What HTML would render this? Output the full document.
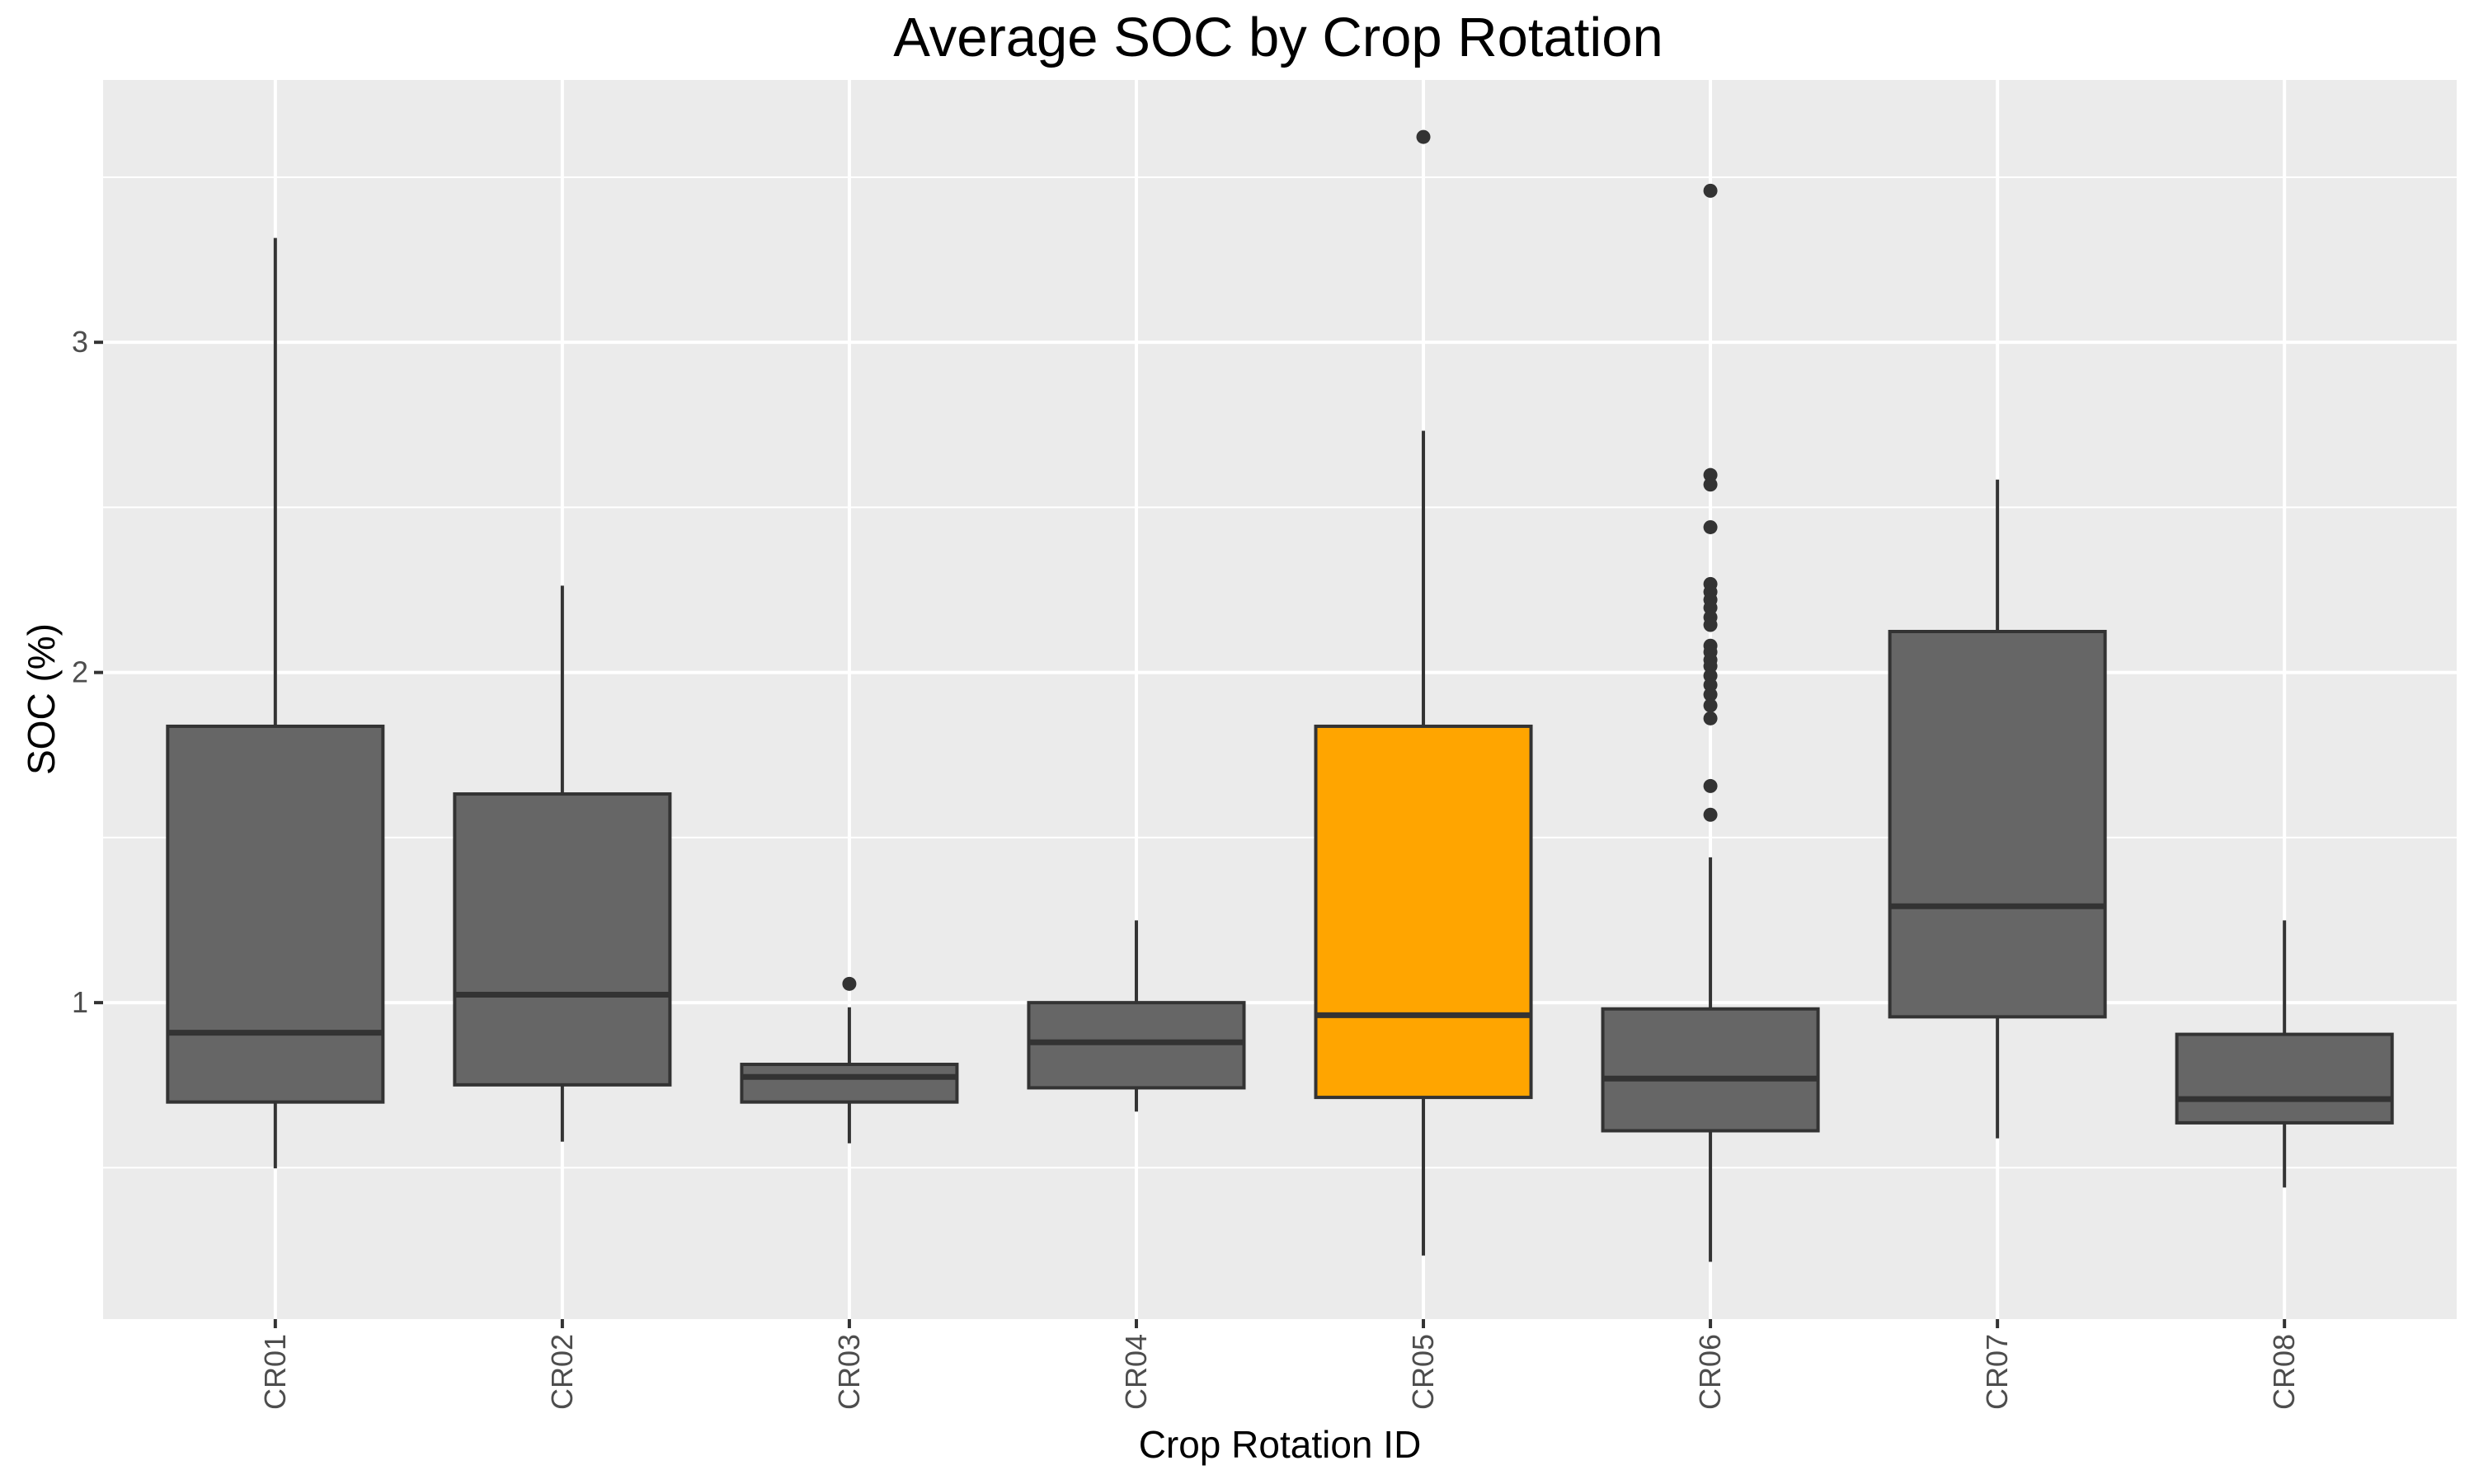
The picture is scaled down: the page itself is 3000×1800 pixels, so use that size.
<!DOCTYPE html>
<html><head><meta charset="utf-8"><style>
html,body{margin:0;padding:0;background:#fff;}
svg{display:block;font-family:"Liberation Sans",Arial,sans-serif;}
</style></head><body>
<svg id="chart" width="3000" height="1800" viewBox="0 0 3000 1800">
<rect x="0" y="0" width="3000" height="1800" fill="#fff"/>
<text x="1550" y="68" text-anchor="middle" font-size="67" fill="#000">Average SOC by Crop Rotation</text>
<rect x="125" y="97" width="2854" height="1503" fill="#ebebeb"/>
<g id="grid"></g>
<g id="boxes"></g>
<g id="axes"></g>
<text x="1552" y="1768" text-anchor="middle" font-size="46" fill="#000">Crop Rotation ID</text>
<text transform="translate(66,848) rotate(-90)" text-anchor="middle" font-size="46" fill="#000">SOC (%)</text>
</svg>
<script>
const categories = ["CR01","CR02","CR03","CR04","CR05","CR06","CR07","CR08"];
const whiskerLow = [0.498,0.579,0.574,0.670,0.234,0.215,0.589,0.440];
const q1 = [0.699,0.751,0.699,0.742,0.713,0.612,0.957,0.636];
const medians = [0.909,1.024,0.775,0.880,0.962,0.770,1.292,0.708];
const q3 = [1.837,1.632,0.813,1.000,1.837,0.981,2.124,0.904];
const whiskerHigh = [3.316,2.263,0.986,1.249,2.732,1.440,2.584,1.249];
const outliers = [[],[],[1.057],[],[3.622],[3.459,2.598,2.569,2.440,2.268,2.244,2.220,2.196,2.167,2.144,2.081,2.062,2.038,2.019,1.990,1.962,1.933,1.900,1.861,1.656,1.569],[],[]];
const highlighted = ["CR05"];
const yTicks = [1,2,3];
const yMinor = [0.5,1.5,2.5,3.5];

const NS="http://www.w3.org/2000/svg";
const PL=125,PR=2979,PT=97,PB=1600;
const YMIN=0.0415,YMAX=3.7945;
function y(v){return PB-(v-YMIN)/(YMAX-YMIN)*(PB-PT);}
const step=(PR-PL)/(categories.length+0.2);
function x(i){return PL+step*(0.6+i);}
const bw=step*0.75;
function mk(tag,attrs,parent){const e=document.createElementNS(NS,tag);for(const k in attrs)e.setAttribute(k,attrs[k]);parent.appendChild(e);return e;}
const grid=document.getElementById('grid'),boxes=document.getElementById('boxes'),axes=document.getElementById('axes');
yMinor.forEach(v=>{const l=mk('line',{x1:PL,x2:PR,y1:y(v),y2:y(v),stroke:'#fff','stroke-width':2},grid);

});
yTicks.forEach(v=>{const l=mk('line',{x1:PL,x2:PR,y1:y(v),y2:y(v),stroke:'#fff','stroke-width':4},grid);


const t=mk('line',{x1:PL-11,x2:PL,y1:y(v),y2:y(v),stroke:'#333','stroke-width':4},axes);


const tx=mk('text',{x:PL-18,y:y(v)+12,'text-anchor':'end','font-size':36,fill:'#4d4d4d'},axes);tx.textContent=v;

});
categories.forEach((c,i)=>{const cx=x(i);
const g=mk('line',{x1:cx,x2:cx,y1:PT,y2:PB,stroke:'#fff','stroke-width':4},grid);


const grp=mk('g',{},boxes);


mk('line',{x1:cx,x2:cx,y1:y(whiskerHigh[i]),y2:y(q3[i]),stroke:'#333','stroke-width':4},grp);
mk('line',{x1:cx,x2:cx,y1:y(q1[i]),y2:y(whiskerLow[i]),stroke:'#333','stroke-width':4},grp);
mk('rect',{x:cx-bw/2,y:y(q3[i]),width:bw,height:y(q1[i])-y(q3[i]),fill:highlighted.includes(c)?'#ffa500':'#666666',stroke:'#333','stroke-width':4},grp);
mk('line',{x1:cx-bw/2,x2:cx+bw/2,y1:y(medians[i]),y2:y(medians[i]),stroke:'#333','stroke-width':7},grp);
outliers[i].forEach(v=>{const p=mk('circle',{cx:cx,cy:y(v),r:8.5,fill:'#333'},grp);

});
const t=mk('line',{x1:cx,x2:cx,y1:PB,y2:PB+11,stroke:'#333','stroke-width':4},axes);


const tx=mk('text',{transform:`translate(${cx+12},${PB+18}) rotate(-90)`,'text-anchor':'end','font-size':36,fill:'#4d4d4d'},axes);tx.textContent=c;

});
</script>
</body></html>
